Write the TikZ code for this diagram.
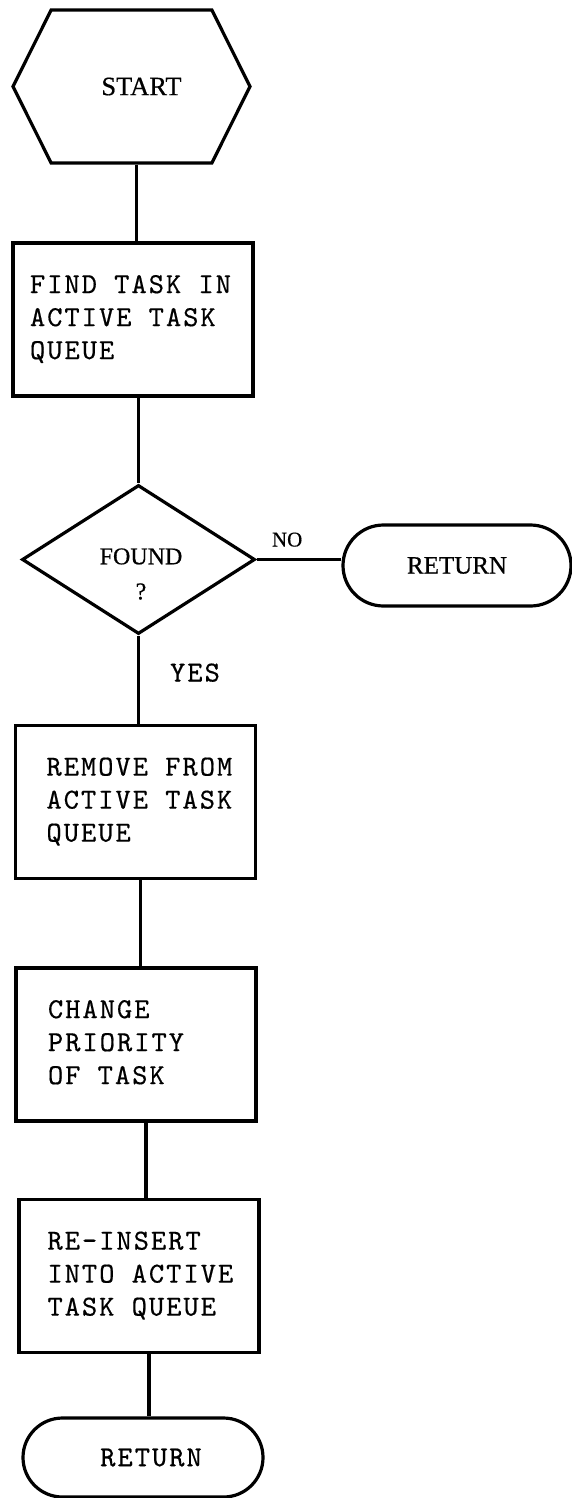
\documentclass[tikz,border=0pt]{standalone}
\usepackage{fontspec}
\setmainfont{Liberation Serif}
\newfontfamily\serifw{Liberation Serif}[FakeBold=0.6]
\newfontfamily\typew{lmmono10-regular.otf}[LetterSpace=7, FakeBold=0.5]
\usetikzlibrary{shapes.geometric,shapes.misc,shapes.symbols}

% typewriter text used inside the process boxes
\newcommand\twfont{\typew\fontsize{29}{33}\selectfont}
% left-set block of lines inside a 240pt wide box, indented by #1
\newcommand\boxlines[2]{\makebox[240pt][l]{\hspace*{#1}\begin{tabular}{@{}l@{}}#2\end{tabular}}}

\tikzset{
  stroke/.style={line width=3.2pt, line join=miter},
  hexa/.style={signal, signal to=east and west, signal pointer angle=127,
    draw, stroke, minimum width=237pt, minimum height=153pt, inner sep=0pt,
    font=\serifw\fontsize{26.5}{30}\selectfont},
  proc/.style={rectangle, draw, stroke, minimum width=240pt,
    minimum height=153pt, inner sep=0pt, font=\twfont},
  decide/.style={diamond, draw, stroke, minimum width=233pt,
    minimum height=149pt, inner sep=0pt},
  term/.style={rounded rectangle, draw, stroke, inner sep=0pt},
  link/.style={stroke},
  edgelbl/.style={inner sep=0pt}
}

\begin{document}
\begin{tikzpicture}[x=1pt, y=-1pt]
  \useasboundingbox (0,0) rectangle (572,1498);

  % start terminal
  \node[hexa] (start) at (131.5,86.5) {\hspace*{20pt}START};

  % process chain
  \node[proc] (find) at (133,319.5)
    {\boxlines{17pt}{FIND TASK IN\\ACTIVE TASK\\QUEUE}};
  \node[decide] (found) at (138.5,559.5) {};
  \node[font=\serifw\fontsize{24}{35}\selectfont, align=center, inner sep=0pt]
    (foundtxt) at (141,574) {FOUND\\?};
  \node[term, minimum width=228pt, minimum height=81pt,
        font=\serifw\fontsize{25}{30}\selectfont] (ret1) at (457,565.5) {RETURN};
  \node[proc] (remove) at (135.5,802)
    {\boxlines{31pt}{REMOVE FROM\\ACTIVE TASK\\QUEUE}};
  \node[proc] (change) at (136,1044.5)
    {\boxlines{32pt}{CHANGE\\PRIORITY\\OF TASK}};
  \node[proc] (reins) at (139,1276)
    {\boxlines{28.5pt}{RE-INSERT\\INTO ACTIVE\\TASK QUEUE}};
  \node[term, minimum width=240pt, minimum height=79pt, font=\twfont]
    (ret2) at (143,1457.5) {\hspace*{16pt}RETURN};

  % connectors
  \draw[link] ([xshift=5pt]start.south) -- ([xshift=5pt]start.south |- find.north);
  \draw[link] (found.north |- find.south) -- (found.north);
  \draw[link] (found.east) -- node[edgelbl, pos=0.36, anchor=base, yshift=13pt,
      font=\serifw\fontsize{21}{25}\selectfont] (nolbl) {NO} (found.east -| ret1.west);
  \draw[link] (found.south) -- node[edgelbl, pos=0.52, anchor=base west, xshift=30pt,
      font=\twfont] (yeslbl) {YES} (found.south |- remove.north);
  \draw[link] ([xshift=5pt]remove.south) -- ([xshift=5pt]remove.south |- change.north);
  \draw[link] ([xshift=10pt]change.south) -- ([xshift=10pt]change.south |- reins.north);
  \draw[link] ([xshift=10pt]reins.south) -- ([xshift=10pt]reins.south |- ret2.north);
\end{tikzpicture}
\end{document}
